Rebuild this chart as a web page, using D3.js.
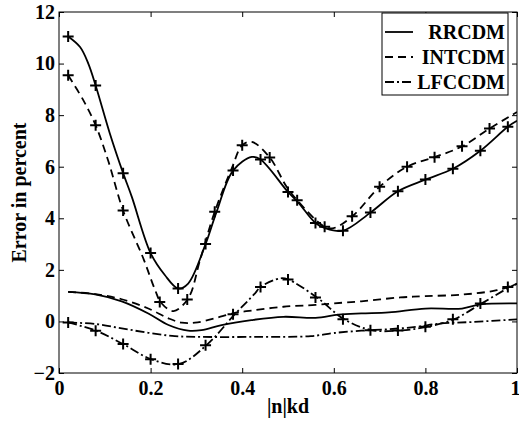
<!DOCTYPE html>
<html>
<head>
<meta charset="utf-8">
<script src="https://cdn.jsdelivr.net/npm/d3@7"></script>
<style>
  html, body { margin: 0; padding: 0; background: #fff; }
  svg { display: block; }
  text { font-family: "Liberation Serif", "Times New Roman", serif; font-weight: bold; }
</style>
</head>
<body>
<svg id="chart" width="519" height="424"></svg>
<script>
// ---- data ----
const xTickValues = [0, 0.2, 0.4, 0.6, 0.8, 1];
const xTickLabels = ["0", "0.2", "0.4", "0.6", "0.8", "1"];
const yTickValues = [-2, 0, 2, 4, 6, 8, 10, 12];
const yTickLabels = ["\u22122", "0", "2", "4", "6", "8", "10", "12"];
const seriesNames = ["RRCDM", "INTCDM", "LFCCDM"];

// RRCDM with markers (upper solid)
const rrcdmMarkedX = [0.02,0.046,0.064,0.08,0.111,0.14,0.159,0.20,0.231,0.26,0.282,0.32,0.344,0.38,0.421,0.44,0.50,0.523,0.56,0.581,0.62,0.68,0.74,0.80,0.86,0.92,0.98,1.0];
const rrcdmMarkedY = [11.05,10.64,10.0,9.15,7.29,5.75,4.83,2.65,1.8,1.28,1.47,3.0,4.25,5.85,6.38,6.28,5.02,4.6,3.82,3.62,3.52,4.22,5.05,5.50,5.92,6.62,7.55,7.78];
const rrcdmMarkerX = [0.02,0.08,0.14,0.20,0.26,0.32,0.38,0.44,0.50,0.56,0.62,0.68,0.74,0.80,0.86,0.92,0.98];
const rrcdmMarkerY = [11.05,9.15,5.75,2.65,1.28,3.0,5.85,6.28,5.02,3.82,3.52,4.22,5.05,5.50,5.92,6.62,7.55];

// INTCDM with markers (upper dashed)
const intcdmMarkedX = [0.02,0.053,0.08,0.108,0.14,0.184,0.21,0.223,0.25,0.282,0.308,0.34,0.377,0.40,0.421,0.46,0.497,0.52,0.58,0.60,0.643,0.70,0.76,0.82,0.88,0.94,1.0];
const intcdmMarkedY = [9.55,8.58,7.61,6.2,4.3,2.45,1.21,0.72,0.40,0.89,2.38,4.25,5.93,6.83,6.96,6.36,5.22,4.70,3.67,3.62,4.12,5.22,6.0,6.37,6.79,7.48,8.12];
const intcdmMarkerX = [0.02,0.08,0.14,0.22,0.28,0.34,0.40,0.46,0.52,0.58,0.64,0.70,0.76,0.82,0.88,0.94];
const intcdmMarkerY = [9.55,7.61,4.3,0.75,0.85,4.25,6.83,6.36,4.70,3.67,4.08,5.22,6.0,6.37,6.79,7.48];

// RRCDM without markers (lower solid)
const rrcdmX = [0.02,0.079,0.137,0.195,0.239,0.282,0.311,0.355,0.42,0.49,0.56,0.61,0.66,0.72,0.80,0.88,0.92,1.0];
const rrcdmY = [1.15,1.05,0.78,0.31,-0.14,-0.36,-0.34,-0.14,0.05,0.18,0.14,0.26,0.31,0.35,0.50,0.50,0.66,0.70];

// INTCDM without markers (lower dashed)
const intcdmX = [0.02,0.079,0.137,0.195,0.239,0.268,0.297,0.34,0.384,0.42,0.49,0.56,0.60,0.66,0.745,0.80,0.88,0.956,1.0];
const intcdmY = [1.15,1.06,0.86,0.50,0.12,-0.05,-0.05,0.12,0.33,0.42,0.57,0.64,0.70,0.78,0.93,0.98,1.04,1.21,1.45];

// LFCCDM without markers (lower dash-dot)
const lfccdmX = [0.02,0.079,0.137,0.195,0.253,0.311,0.43,0.55,0.60,0.66,0.72,0.78,0.832,0.905,1.0];
const lfccdmY = [-0.04,-0.10,-0.27,-0.44,-0.57,-0.60,-0.60,-0.57,-0.45,-0.36,-0.30,-0.21,-0.08,-0.02,0.08];

// LFCCDM with markers (dash-dot)
const lfccdmMarkedX = [0.02,0.081,0.14,0.202,0.262,0.322,0.384,0.428,0.44,0.483,0.50,0.563,0.623,0.683,0.745,0.803,0.862,0.923,0.985,1.0];
const lfccdmMarkedY = [-0.04,-0.36,-0.88,-1.47,-1.65,-0.92,0.28,1.09,1.34,1.67,1.63,0.93,0.08,-0.34,-0.35,-0.21,0.08,0.70,1.34,1.47];
const lfccdmMarkerX = [0.02,0.08,0.14,0.20,0.26,0.32,0.38,0.44,0.50,0.56,0.62,0.68,0.74,0.80,0.86,0.92,0.98];
const lfccdmMarkerY = [-0.04,-0.36,-0.88,-1.47,-1.65,-0.92,0.28,1.34,1.63,0.93,0.08,-0.34,-0.35,-0.21,0.08,0.70,1.34];

// ---- layout ----
const W = 519, H = 424;
const margin = { left: 59, right: 2, top: 12, bottom: 51 };
const pw = W - margin.left - margin.right;
const ph = H - margin.top - margin.bottom;

const svg = d3.select("#chart");
const g = svg.append("g").attr("transform", `translate(${margin.left},${margin.top})`);

const x = d3.scaleLinear().domain([0, 1]).range([0, pw]);
const y = d3.scaleLinear().domain([-2, 12]).range([ph, 0]);

const styles = {
  solid: null,
  dashed: "8,5",
  dashdot: "9,3,2,3"
};

function zip(xs, ys) { return xs.map((v, i) => [v, ys[i]]); }

const line = d3.line()
  .x(d => x(d[0])).y(d => y(d[1]))
  .curve(d3.curveCatmullRom.alpha(0.5));

g.append("defs").append("clipPath").attr("id", "clip")
  .append("rect").attr("width", pw).attr("height", ph);

const plot = g.append("g").attr("clip-path", "url(#clip)");

const curves = [
  { xs: rrcdmMarkedX, ys: rrcdmMarkedY, dash: styles.solid, mx: rrcdmMarkerX, my: rrcdmMarkerY },
  { xs: intcdmMarkedX, ys: intcdmMarkedY, dash: styles.dashed, mx: intcdmMarkerX, my: intcdmMarkerY },
  { xs: rrcdmX, ys: rrcdmY, dash: styles.solid },
  { xs: intcdmX, ys: intcdmY, dash: styles.dashed },
  { xs: lfccdmX, ys: lfccdmY, dash: styles.dashdot },
  { xs: lfccdmMarkedX, ys: lfccdmMarkedY, dash: styles.dashdot, mx: lfccdmMarkerX, my: lfccdmMarkerY }
];

curves.forEach(c => {
  plot.append("path")
    .datum(zip(c.xs, c.ys))
    .attr("d", line)
    .attr("fill", "none")
    .attr("stroke", "#000")
    .attr("stroke-width", 1.8)
    .attr("stroke-dasharray", c.dash);
});

const ms = 5.5;
curves.filter(c => c.mx).forEach(c => {
  g.append("g").selectAll("path")
    .data(zip(c.mx, c.my))
    .join("path")
    .attr("d", d => `M${x(d[0]) - ms},${y(d[1])}H${x(d[0]) + ms}M${x(d[0])},${y(d[1]) - ms}V${y(d[1]) + ms}`)
    .attr("stroke", "#000")
    .attr("stroke-width", 2)
    .attr("fill", "none");
});

// ---- axes ----
const fontSize = 20;
const xAxis = d3.axisBottom(x).tickValues(xTickValues)
  .tickFormat((d, i) => xTickLabels[i]).tickSizeInner(-5).tickSizeOuter(0).tickPadding(8);
const yAxis = d3.axisLeft(y).tickValues(yTickValues)
  .tickFormat((d, i) => yTickLabels[i]).tickSizeInner(-5).tickSizeOuter(0).tickPadding(4);
const xTop = d3.axisTop(x).tickValues(xTickValues).tickFormat("").tickSizeInner(-5).tickSizeOuter(0);
const yRight = d3.axisRight(y).tickValues(yTickValues).tickFormat("").tickSizeInner(-5).tickSizeOuter(0);

function styleAxis(sel) {
  sel.select(".domain").remove();
  sel.selectAll(".tick line").attr("stroke", "#000").attr("stroke-width", 1);
  sel.selectAll(".tick text").attr("fill", "#000")
    .style("font-size", fontSize + "px")
    .style("font-family", '"Liberation Serif", "Times New Roman", serif')
    .style("font-weight", "bold");
}

const xAxisG = g.append("g").attr("transform", `translate(0,${ph})`).call(xAxis).call(styleAxis);
// keep the last label inside the picture
xAxisG.selectAll(".tick text").filter(d => d === 1).attr("text-anchor", "end").attr("dx", 3);
g.append("g").call(yAxis).call(styleAxis);
g.append("g").call(xTop).call(styleAxis);
g.append("g").attr("transform", `translate(${pw},0)`).call(yRight).call(styleAxis);

g.append("rect").attr("width", pw).attr("height", ph)
  .attr("fill", "none").attr("stroke", "#000").attr("stroke-width", 1);

// axis titles
svg.append("text")
  .attr("x", margin.left + pw / 2)
  .attr("y", 413)
  .attr("text-anchor", "middle")
  .style("font-size", "20px")
  .text("|n|kd");

svg.append("text")
  .attr("transform", `translate(26,${margin.top + ph / 2}) rotate(-90)`)
  .attr("text-anchor", "middle")
  .style("font-size", "20px")
  .text("Error in percent");

// ---- legend ----
const legend = svg.append("g");
const lx0 = 382, ly0 = 13, lw = 126, lh = 82;
legend.append("rect").attr("x", lx0).attr("y", ly0).attr("width", lw).attr("height", lh)
  .attr("fill", "#fff").attr("stroke", "#000").attr("stroke-width", 1);
const legendDash = [styles.solid, styles.dashed, styles.dashdot];
seriesNames.forEach((name, i) => {
  const yy = ly0 + 19 + i * 25;
  legend.append("line")
    .attr("x1", lx0 + 3).attr("x2", lx0 + 31).attr("y1", yy).attr("y2", yy)
    .attr("stroke", "#000").attr("stroke-width", 1.8)
    .attr("stroke-dasharray", legendDash[i]);
  legend.append("text")
    .attr("x", lx0 + lw - 3).attr("y", yy + 7)
    .attr("text-anchor", "end")
    .style("font-size", "20px")
    .text(name);
});
</script>
</body>
</html>
